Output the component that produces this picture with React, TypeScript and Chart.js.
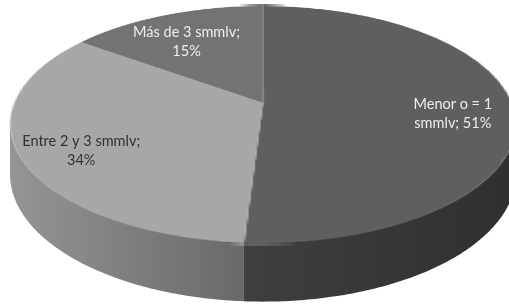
import React, { useEffect, useRef } from "react";
import { Chart, registerables } from "chart.js";

Chart.register(...registerables);

// ---- data ----
const CATEGORIES = ["Menor o = 1 smmlv", "Entre 2 y 3 smmlv", "Más de 3 smmlv"];
const VALUES = [51, 34, 15];
// data-label text lines; {p} is replaced by the slice percentage
const LABEL_LINES = [
  ["Menor o = 1", "smmlv; {p}"],
  ["Entre 2 y 3 smmlv;", "{p}"],
  ["Más de 3 smmlv;", "{p}"],
];

// ---- style ----
const TOP_COLORS = ["#5f5f61", "#a7a7a9", "#737376"];
const WALL_COLORS = [
  ["#2f2f31", "#3f3f41"],
  ["#69696b", "#959597"],
  ["#505052", "#606062"],
];
const TEXT_COLORS = ["#ededed", "#333333", "#ededed"];
const W = 509;
const H = 304;
const VIEW = { cx: 263, cy: 103, a: 248.8, b: 0.1814, c: 114.6, depth: 48, labelR: 0.76, labelDy: 8 };
const FONT = "14.5px Lato, 'Liberation Sans', sans-serif";
const LINE_H = 19;

function proj(u: number, v: number) {
  const d = 1 - VIEW.b * v;
  return { x: VIEW.cx + (VIEW.a * u) / d, y: VIEW.cy + (VIEW.c * v) / d };
}

const pie3d = {
  id: "pie3d",
  afterDatasetsDraw(chart: any) {
    const meta = chart.getDatasetMeta(0);
    const arcs = meta.data as any[];
    if (!arcs.length) return;
    const ctx: CanvasRenderingContext2D = chart.ctx;
    const canvas: HTMLCanvasElement = chart.canvas;
    const off = document.createElement("canvas");
    off.width = canvas.width;
    off.height = canvas.height;
    const octx = off.getContext("2d")!;
    octx.drawImage(canvas, 0, 0);
    const x0 = arcs[0].x;
    const y0 = arcs[0].y;
    const R = arcs[0].outerRadius;
    const { b, c, cx, cy, a, depth } = VIEW;

    ctx.save();
    ctx.setTransform(1, 0, 0, 1, 0, 0);
    ctx.clearRect(0, 0, canvas.width, canvas.height);

    // side walls (front-facing part of each slice)
    const a0 = Math.asin(b);
    arcs.forEach((arc, i) => {
      const s = Math.max(arc.startAngle, a0);
      const e = Math.min(arc.endAngle, Math.PI - a0);
      if (e <= s) return;
      const n = Math.max(8, Math.ceil((e - s) * 80));
      ctx.beginPath();
      for (let k = 0; k <= n; k++) {
        const t = s + ((e - s) * k) / n;
        const p = proj(Math.cos(t), Math.sin(t));
        if (k === 0) ctx.moveTo(p.x, p.y - 1);
        else ctx.lineTo(p.x, p.y - 1);
      }
      for (let k = n; k >= 0; k--) {
        const t = s + ((e - s) * k) / n;
        const p = proj(Math.cos(t), Math.sin(t));
        ctx.lineTo(p.x, p.y + depth / (1 - b * Math.sin(t)));
      }
      ctx.closePath();
      const p1 = proj(Math.cos(s), Math.sin(s));
      const p2 = proj(Math.cos(e), Math.sin(e));
      const g = ctx.createLinearGradient(p1.x, 0, p2.x, 0);
      g.addColorStop(0, WALL_COLORS[i][0]);
      g.addColorStop(1, WALL_COLORS[i][1]);
      ctx.fillStyle = g;
      ctx.fill();
    });

    // top face: perspective warp of the pie drawn by Chart.js, row by row
    ctx.imageSmoothingEnabled = true;
    const yTop = Math.floor(cy - c / (1 + b)) - 2;
    const yBot = Math.ceil(cy + c / (1 - b)) + 2;
    for (let Y = yTop; Y <= yBot; Y++) {
      const t = Y + 0.5 - cy;
      const v = t / (c + b * t);
      if (v < -1.02 || v > 1.02) continue;
      const s = a / (R * (1 - b * v));
      let sy = y0 + R * v - 0.5;
      if (sy < 0) sy = 0;
      if (sy > off.height - 1) sy = off.height - 1;
      const sx = Math.max(0, x0 - R - 2);
      const sw = Math.min(off.width - sx, 2 * R + 4);
      ctx.drawImage(off, sx, sy, sw, 1, cx + (sx - x0) * s, Y, sw * s, 1);
    }

    // data labels
    const total = VALUES.reduce((p, q) => p + q, 0);
    ctx.font = FONT;
    ctx.textAlign = "center";
    ctx.textBaseline = "middle";
    arcs.forEach((arc, i) => {
      const mid = (arc.startAngle + arc.endAngle) / 2;
      const p = proj(VIEW.labelR * Math.cos(mid), VIEW.labelR * Math.sin(mid));
      const pct = Math.round((VALUES[i] / total) * 100) + "%";
      const lines = LABEL_LINES[i].map((l) => l.replace("{p}", pct));
      ctx.fillStyle = TEXT_COLORS[i];
      const y1 = p.y + VIEW.labelDy - ((lines.length - 1) * LINE_H) / 2;
      lines.forEach((l, k) => ctx.fillText(l, p.x, y1 + k * LINE_H));
    });
    ctx.restore();
  },
};

export default function App() {
  const ref = useRef<HTMLCanvasElement>(null);
  useEffect(() => {
    const chart = new Chart(ref.current!, {
      type: "pie",
      data: {
        labels: CATEGORIES,
        datasets: [
          {
            data: VALUES,
            backgroundColor: TOP_COLORS,
            borderWidth: 0,
          },
        ],
      },
      options: {
        responsive: false,
        animation: false,
        devicePixelRatio: 1,
        events: [],
        layout: { padding: 0 },
        plugins: { legend: { display: false }, tooltip: { enabled: false } },
      },
      plugins: [pie3d],
    } as any);
    return () => chart.destroy();
  }, []);
  return (
    <div style={{ position: "fixed", left: 0, top: 0, width: W, height: H, background: "#fff" }}>
      <canvas ref={ref} width={W} height={H} style={{ display: "block" }} />
    </div>
  );
}
